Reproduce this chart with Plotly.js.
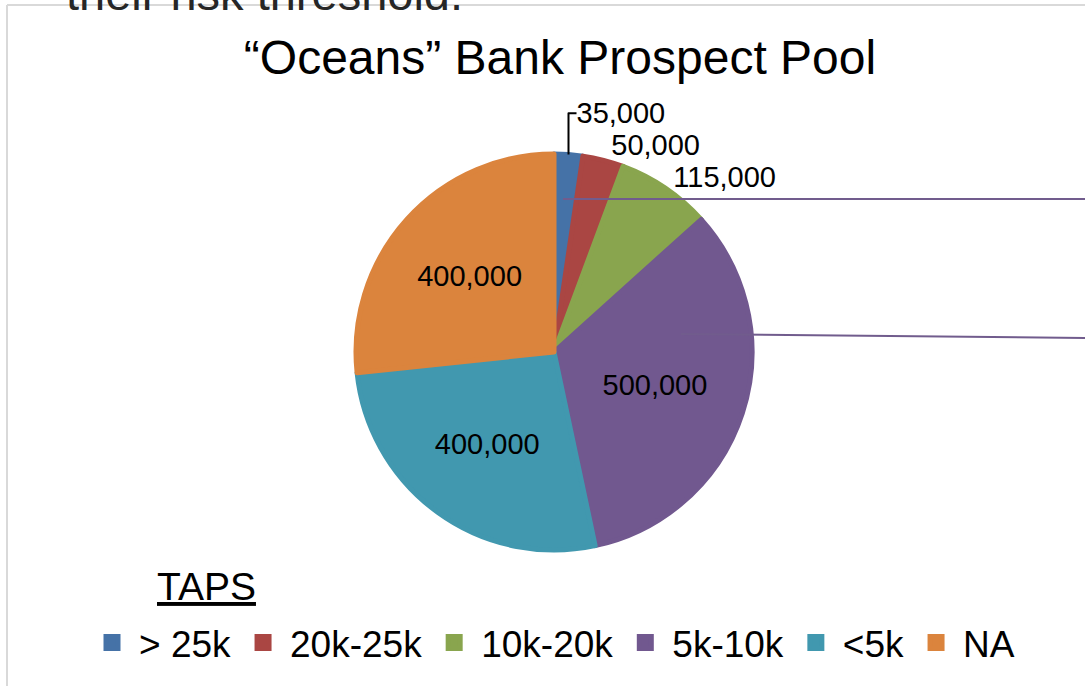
<!DOCTYPE html>
<html>
<head>
<meta charset="utf-8">
<script src="https://cdn.plot.ly/plotly-3.0.1.min.js"></script>
<style>html,body{margin:0;padding:0;background:#fff;}#chart{width:1085px;height:686px;}</style>
</head>
<body>
<div id="chart"></div>
<script>
// Data
const categories = ["> 25k", "20k-25k", "10k-20k", "5k-10k", "<5k", "NA"];
const prospects = [35000, 50000, 115000, 500000, 400000, 400000];
const sliceColors = ["#4572A7", "#AA4643", "#89A54E", "#71588F", "#4198AF", "#DB843D"];
const chartTitle = "\u201COceans\u201D Bank Prospect Pool";
const legendHeading = "TAPS";
const slideTextAbove = "their risk threshold.";

const W = 1085, H = 686;
const px = v => v / W;
const py = v => 1 - v / H;
const FONT = "Liberation Sans, Arial, sans-serif";

const trace = {
  type: "pie",
  labels: categories,
  values: prospects,
  sort: false,
  direction: "clockwise",
  rotation: 0,
  marker: {colors: sliceColors, line: {width: 5, color: sliceColors}},
  texttemplate: "%{value:,}",
  textposition: "auto",
  insidetextorientation: "horizontal",
  textfont: {family: FONT, size: 29, color: "#000"},
  outsidetextfont: {family: FONT, size: 29, color: "#000"},
  insidetextfont: {family: FONT, size: 29, color: "#000"},
  hoverinfo: "label+value",
  domain: {x: [px(356), px(752)], y: [py(550), py(154)]}
};

const layout = {
  width: W, height: H,
  margin: {l: 0, r: 0, t: 0, b: 0},
  paper_bgcolor: "#fff",
  font: {family: FONT, color: "#000"},
  title: {
    text: chartTitle,
    font: {family: FONT, size: 48, color: "#000"},
    x: px(560), xanchor: "center",
    y: py(57), yanchor: "middle", yref: "container"
  },
  showlegend: true,
  legend: {
    orientation: "h",
    x: px(85), xanchor: "left",
    y: py(643), yanchor: "middle",
    itemwidth: 44,
    font: {family: FONT, size: 37, color: "#000"},
    bgcolor: "rgba(0,0,0,0)",
    traceorder: "normal"
  },
  annotations: [
    {
      text: "<u>" + legendHeading + "</u>",
      xref: "paper", yref: "paper",
      x: px(155), xanchor: "left",
      y: py(586), yanchor: "middle",
      showarrow: false,
      font: {family: FONT, size: 39, color: "#000"}
    },
    {
      text: slideTextAbove,
      xref: "paper", yref: "paper",
      x: px(64), xanchor: "left",
      y: py(22), yanchor: "bottom",
      showarrow: false,
      font: {family: FONT, size: 47, color: "#262626"}
    }
  ],
  shapes: [
    {type: "line", xref: "paper", yref: "paper", x0: px(7), x1: px(1085), y0: py(5), y1: py(5),
     line: {color: "#D9D9D9", width: 2}, layer: "below"},
    {type: "line", xref: "paper", yref: "paper", x0: px(7), x1: px(7), y0: py(5), y1: py(686),
     line: {color: "#D9D9D9", width: 2}, layer: "below"},
    {type: "line", xref: "paper", yref: "paper", x0: px(563), x1: px(1085), y0: py(199), y1: py(199),
     line: {color: "#715C8D", width: 2}, layer: "above"},
    {type: "line", xref: "paper", yref: "paper", x0: px(681), x1: px(1085), y0: py(334), y1: py(338),
     line: {color: "#715C8D", width: 2}, layer: "above"}
  ]
};

Plotly.newPlot("chart", [trace], layout, {displayModeBar: false, staticPlot: true});
</script>
</body>
</html>
